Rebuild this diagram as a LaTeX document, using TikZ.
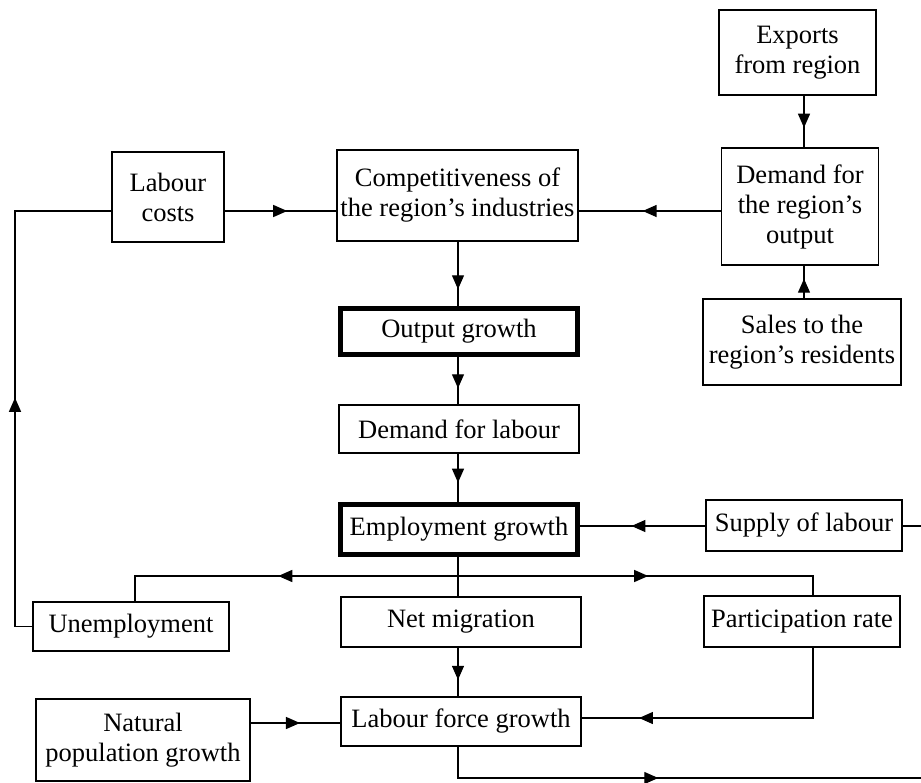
\documentclass[tikz,border=0pt]{standalone}
\usepackage{fontspec}
\setmainfont{Liberation Serif}
\usetikzlibrary{arrows.meta,decorations.markings}

% one unit = 1pt, y grows downward
\tikzset{
  box/.style={draw, rectangle, inner sep=0pt, align=center, line width=1.3pt,
    font=\fontsize{26.5}{30}\selectfont},
  keybox/.style={box, line width=4.6pt},
  link/.style={draw, line width=1.3pt},
  tipat/.style={postaction={decorate}, decoration={markings,
    mark=at position #1 with {\arrow{Triangle[length=14pt,width=12pt]}}}},
}

\begin{document}
\begin{tikzpicture}[x=1pt, y=-1pt]
\useasboundingbox (0,0) rectangle (921,782);
\clip (0,0) rectangle (921,782);

% right column: demand for the region's output
\node[box, minimum width=157pt, minimum height=85pt]  (exp)   at (797.5,52.5) {Exports\\from region};
\node[box, minimum width=157pt, minimum height=117pt] (dem)   at (800,206.5) {Demand for\\the region’s\\output};
\node[box, minimum width=198pt, minimum height=86pt]  (sales) at (802,342) {Sales to the\\region’s residents};

% top row
\node[box, minimum width=112pt, minimum height=90pt]  (lab)   at (168,197) {Labour\\costs};
\node[box, minimum width=241pt, minimum height=91pt]  (comp)  at (457.5,195.5) {Competitiveness of\\the region’s industries};

% central column
\node[keybox, minimum width=237.4pt, minimum height=46.4pt] (out) at (459,331.5) {Output growth};
\node[box, minimum width=240pt, minimum height=48pt]  (dlab)  at (459,429) {Demand for labour};
\node[keybox, minimum width=237.4pt, minimum height=50.4pt] (emp) at (459,529.5) {Employment growth};
\node[box, minimum width=196pt, minimum height=51pt]  (sup)   at (804,525.5) {Supply of labour};

% labour market adjustments
\node[box, minimum width=196pt, minimum height=49pt]  (unemp) at (131,626.5) {Unemployment};
\node[box, minimum width=240pt, minimum height=50pt]  (net)   at (461,622) {Net migration};
\node[box, minimum width=196pt, minimum height=51pt]  (part)  at (802,621.5) {Participation rate};
\node[box, minimum width=240pt, minimum height=49pt]  (lfg)   at (461,721.5) {Labour force growth};
\node[box, minimum width=214pt, minimum height=82pt]  (nat)   at (143,740) {Natural\\population growth};

% routing guides
\coordinate (rcol)  at (804,0);
\coordinate (mcol)  at (458,0);
\coordinate (row1)  at (0,211);
\coordinate (rowS)  at (0,526);
\coordinate (junc)  at (458,576);
\coordinate (lcol)  at (15,0);
\coordinate (ucol)  at (135,0);
\coordinate (pcol)  at (813,0);
\coordinate (rowP)  at (0,718);
\coordinate (rowN)  at (0,723);
\coordinate (rowB)  at (0,778);
\coordinate (loop)  at (945,0);

% demand side
\path[link, tipat=0.62] (exp.south -| rcol) -- (dem.north -| rcol);
\path[link, tipat=0.6]  (sales.north -| rcol) -- (dem.south -| rcol);
\path[link, tipat=0.55] (dem.west |- row1) -- (comp.east |- row1);
\path[link, tipat=0.56] (lab.east |- row1) -- (comp.west |- row1);

% central chain
\path[link, tipat=0.74] (comp.south -| mcol) -- (out.north -| mcol);
\path[link, tipat=0.66] (out.south -| mcol) -- (dlab.north -| mcol);
\path[link, tipat=0.6]  (dlab.south -| mcol) -- (emp.north -| mcol);
\path[link, tipat=0.59] (sup.west |- rowS) -- (emp.east |- rowS);

% employment growth splits three ways
\path[link] (emp.south -| mcol) -- (net.north -| mcol);
\path[link, tipat=0.516] (junc) -- (junc -| ucol) -- (unemp.north -| ucol);
\path[link, tipat=0.508] (junc) -- (junc -| pcol) -- (part.north -| pcol);

% unemployment feeds back into labour costs
\path[link, tipat=0.465] (unemp.west) -- (unemp.west -| lcol) -- (lcol |- row1) -- (lab.west |- row1);

% labour force growth
\path[link, tipat=0.66] (net.south -| mcol) -- (lfg.north -| mcol);
\path[link, tipat=0.81] (part.south -| pcol) -- (pcol |- rowP) -- (lfg.east |- rowP);
\path[link, tipat=0.55] (nat.east |- rowN) -- (lfg.west |- rowN);
\path[link, tipat=0.285] (lfg.south -| mcol) -- (mcol |- rowB) -- (loop |- rowB) -- (loop |- rowS) -- (sup.east |- rowS);
\end{tikzpicture}
\end{document}
